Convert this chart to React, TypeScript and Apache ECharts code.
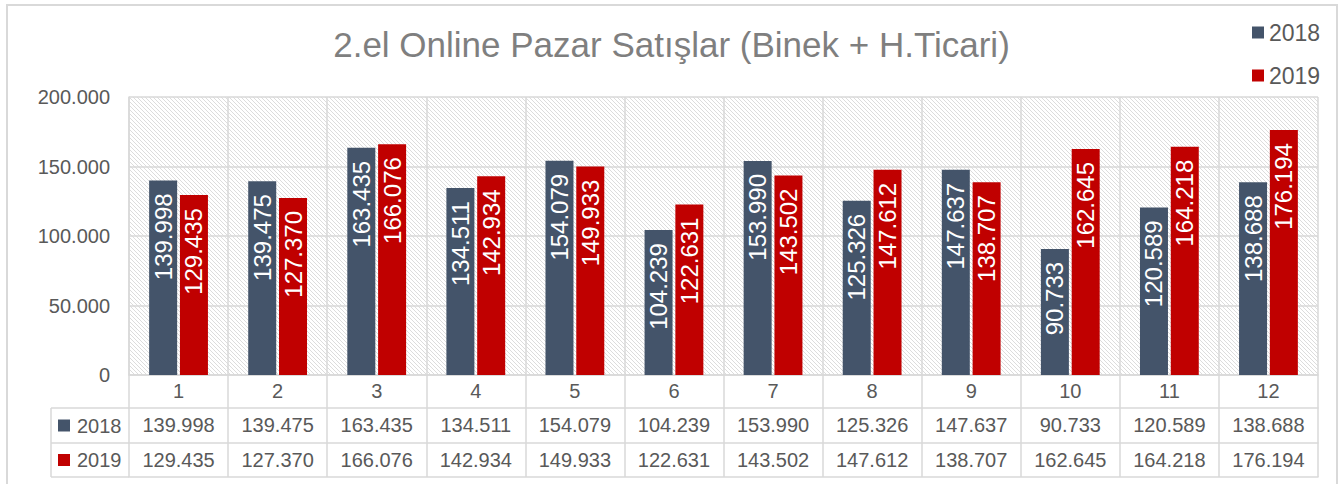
import React, { useEffect, useRef } from "react";
import * as echarts from "echarts";

const categories = ["1", "2", "3", "4", "5", "6", "7", "8", "9", "10", "11", "12"];
const values2018 = [139998, 139475, 163435, 134511, 154079, 104239, 153990, 125326, 147637, 90733, 120589, 138688];
const values2019 = [129435, 127370, 166076, 142934, 149933, 122631, 143502, 147612, 138707, 162645, 164218, 176194];
const seriesNames = ["2018", "2019"];
const yTicks = { min: 0, max: 200000, interval: 50000 };
const titleText = "2.el Online Pazar Satışlar (Binek + H.Ticari)";

const COLORS = ["#44546A", "#C00000"];
const GRID_LINE = "#d9d9d9";
const TEXT = "#595959";
const FONT = "'Liberation Sans', Arial, sans-serif";

function fmt(v: number): string {
  return String(Math.round(v)).replace(/\B(?=(\d{3})+(?!\d))/g, ".");
}

function makeHatch(): string {
  const c = document.createElement("canvas");
  c.width = 4;
  c.height = 4;
  const ctx = c.getContext("2d")!;
  ctx.fillStyle = "#ffffff";
  ctx.fillRect(0, 0, 4, 4);
  ctx.strokeStyle = "#dcdcdc";
  ctx.lineWidth = 1;
  ctx.beginPath();
  ctx.moveTo(-1, -1);
  ctx.lineTo(5, 5);
  ctx.moveTo(-1, 3);
  ctx.lineTo(1, 5);
  ctx.moveTo(3, -1);
  ctx.lineTo(5, 1);
  ctx.stroke();
  return c.toDataURL();
}

export default function App() {
  const ref = useRef<HTMLDivElement>(null);
  useEffect(() => {
    if (!ref.current) return;
    const chart = echarts.init(ref.current, null, { renderer: "svg" });
    const gridLeft = 129;
    const gridTop = 97;
    const gridRight = 25;
    const gridHeight = 278;
    const plotBottom = gridTop + gridHeight; // 375
    const row1 = 33;
    const row2 = 35;
    const row3 = 34;

    const tableAxisBase = {
      type: "category" as const,
      gridIndex: 0,
      position: "bottom" as const,
      boundaryGap: true,
      axisLine: { show: true, lineStyle: { color: GRID_LINE, width: 1.5 } },
      splitLine: { show: false },
    };

    chart.setOption({
      animation: false,
      backgroundColor: "#ffffff",
      title: {
        text: titleText,
        left: "center",
        top: 22,
        textStyle: { color: "#7f7f7f", fontSize: 35, fontWeight: "normal", fontFamily: FONT },
      },
      legend: {
        orient: "vertical",
        left: 1247,
        top: 16,
        itemWidth: 12,
        itemHeight: 12,
        itemGap: 20,
        icon: "rect",
        data: seriesNames,
        textStyle: { color: TEXT, fontSize: 23, lineHeight: 22, fontFamily: FONT },
      },
      grid: {
        left: gridLeft,
        top: gridTop,
        right: gridRight,
        height: gridHeight,
        show: true,
        borderWidth: 0,
        backgroundColor: {
          image: makeHatch(),
          repeat: "repeat",
          imageWidth: 4,
          imageHeight: 4,
        } as any,
      },
      xAxis: [
        {
          ...tableAxisBase,
          data: categories,
          offset: 0,
          axisTick: { show: true, interval: 0, length: row1, lineStyle: { color: GRID_LINE, width: 1.5 } },
          axisLabel: { interval: 0, margin: 6, color: TEXT, fontSize: 20, fontFamily: FONT },
          splitLine: { show: true, interval: 0, lineStyle: { color: GRID_LINE, width: 1.5 } },
        },
        {
          ...tableAxisBase,
          data: values2018.map(fmt),
          offset: row1,
          axisTick: { show: true, interval: 0, length: row2, lineStyle: { color: GRID_LINE, width: 1.5 } },
          axisLabel: { interval: 0, margin: 7, color: TEXT, fontSize: 20, fontFamily: FONT },
        },
        {
          ...tableAxisBase,
          data: values2019.map(fmt),
          offset: row1 + row2,
          axisTick: { show: true, interval: 0, length: row3, lineStyle: { color: GRID_LINE, width: 1.5 } },
          axisLabel: { interval: 0, margin: 7, color: TEXT, fontSize: 20, fontFamily: FONT },
        },
        {
          ...tableAxisBase,
          data: categories.map(() => ""),
          offset: row1 + row2 + row3,
          axisTick: { show: false },
          axisLabel: { show: false },
        },
      ],
      yAxis: {
        type: "value",
        min: yTicks.min,
        max: yTicks.max,
        interval: yTicks.interval,
        axisLine: { show: true, lineStyle: { color: GRID_LINE, width: 1.5 } },
        axisTick: { show: false },
        splitLine: { show: true, lineStyle: { color: GRID_LINE, width: 1.5 } },
        axisLabel: { color: TEXT, fontSize: 20, margin: 19, fontFamily: FONT, formatter: (v: number) => fmt(v) },
      },
      series: [values2018, values2019].map((vals, i) => ({
        type: "bar",
        name: seriesNames[i],
        xAxisIndex: 0,
        data: vals,
        barWidth: 28,
        barGap: "10%",
        itemStyle: { color: COLORS[i] },
        label: {
          show: true,
          position: "insideTop",
          rotate: 90,
          align: "right",
          verticalAlign: "middle",
          distance: 13,
          color: "#ffffff",
          fontSize: 24,
          fontFamily: FONT,
          formatter: (p: any) => fmt(p.value),
        },
      })),
      graphic: [
        {
          type: "rect",
          shape: { x: 7, y: 5, width: 1330, height: 520 },
          style: { fill: "none", stroke: GRID_LINE, lineWidth: 2 },
          silent: true,
        },
        {
          type: "line",
          shape: { x1: 51, y1: plotBottom + row1, x2: 51, y2: plotBottom + row1 + row2 + row3 },
          style: { stroke: GRID_LINE, lineWidth: 1.5 },
        },
        ...[row1, row1 + row2, row1 + row2 + row3].map((dy) => ({
          type: "line",
          shape: { x1: 51, y1: plotBottom + dy, x2: gridLeft, y2: plotBottom + dy },
          style: { stroke: GRID_LINE, lineWidth: 1.5 },
        })),
        ...seriesNames.flatMap((name, i) => {
          const cy = plotBottom + row1 + (i === 0 ? row2 / 2 : row2 + row3 / 2);
          return [
            {
              type: "rect",
              shape: { x: 58, y: cy - 6, width: 12, height: 12 },
              style: { fill: COLORS[i] },
            },
            {
              type: "text",
              x: 77,
              y: cy,
              style: {
                text: name,
                fill: TEXT,
                font: `20px ${FONT}`,
                verticalAlign: "middle",
                align: "left",
              },
            },
          ];
        }),
      ],
    });
    return () => chart.dispose();
  }, []);
  return (
    <div
      ref={ref}
      style={{ position: "absolute", left: 0, top: 0, width: 1343, height: 484, background: "#fff" }}
    />
  );
}
